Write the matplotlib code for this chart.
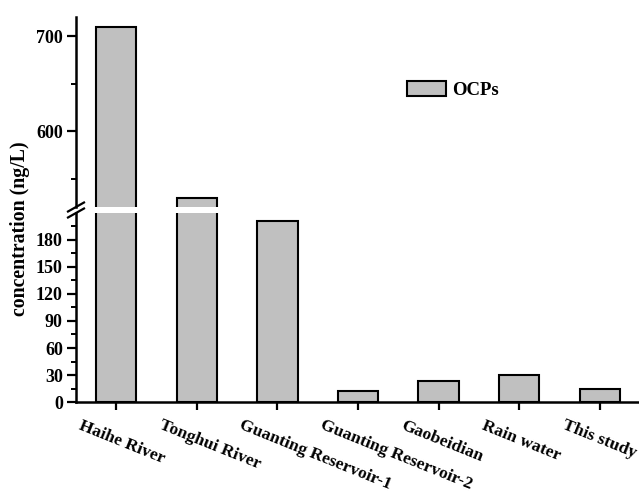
import matplotlib
matplotlib.use("Agg")
import matplotlib.pyplot as plt
from matplotlib.ticker import MultipleLocator
from matplotlib.transforms import ScaledTranslation
from matplotlib.lines import Line2D
from matplotlib.patches import Patch

categories = ["Haihe River", "Tonghui River", "Guanting Reservoir-1",
              "Guanting Reservoir-2", "Gaobeidian", "Rain water", "This study"]
ocps = [710, 529, 201, 12, 24, 30, 15]
series_name = "OCPs"
ylabel = "concentration (ng/L)"

plt.rcParams['font.family'] = ['Liberation Serif', 'DejaVu Serif']
plt.rcParams['font.weight'] = 'bold'

W, H = 639, 492
fig = plt.figure(figsize=(W / 100, H / 100), dpi=100)

left = 76 / W
width = 564 / W
ax_lo = fig.add_axes([left, (H - 402.3) / H, width, 189 / H])
ax_hi = fig.add_axes([left, (H - 207) / H, width, 190 / H])

x = list(range(len(categories)))
bar_color = '#c0c0c0'
for ax in (ax_lo, ax_hi):
    ax.bar(x, ocps, width=0.5, color=bar_color, edgecolor='black', linewidth=1.5)
    ax.set_xlim(-0.5, 6.5)
    ax.spines['top'].set_visible(False)
    ax.spines['right'].set_visible(False)
    ax.spines['left'].set_linewidth(1.8)
    ax.spines['bottom'].set_linewidth(1.8)
    ax.patch.set_alpha(0)
    ax.tick_params(axis='y', which='major', direction='out', length=6.5, width=1.6,
                   labelsize=13, pad=3)
    ax.tick_params(axis='y', which='minor', direction='out', length=3.6, width=1.4)

ax_lo.set_ylim(0, 209)
ax_lo.yaxis.set_major_locator(MultipleLocator(30))
ax_lo.yaxis.set_minor_locator(MultipleLocator(15))
ax_lo.set_xticks(x)
ax_lo.set_xticklabels(categories, rotation=-22, ha='left', va='top',
                      fontsize=12.6, fontweight='bold')
ax_lo.tick_params(axis='x', which='major', direction='out', length=6, width=1.6, pad=5)
shift = ScaledTranslation(-40 / 100, 0, fig.dpi_scale_trans)
for lbl in ax_lo.get_xticklabels():
    lbl.set_transform(lbl.get_transform() + shift)

ax_hi.set_ylim(520, 720)
ax_hi.yaxis.set_major_locator(MultipleLocator(100))
ax_hi.yaxis.set_minor_locator(MultipleLocator(50))
ax_hi.spines['bottom'].set_visible(False)
ax_hi.set_xticks([])

# break marks on the y axis
def px(xp, yp):
    return xp / W, (H - yp) / H

for yc in (207, 213):
    x0, y0 = px(68, yc + 4.5)
    x1, y1 = px(84, yc - 4.5)
    fig.add_artist(Line2D([x0, x1], [y0, y1], color='black', linewidth=1.6,
                          transform=fig.transFigure))

fig.text(20 / W, (H - 229) / H, ylabel, rotation=90, ha='center', va='center',
         fontsize=14.3, fontweight='bold')

handle = Patch(facecolor=bar_color, edgecolor='black', linewidth=1.5)
fig.legend([handle], [series_name], loc='center left',
           bbox_to_anchor=(406.7 / W, (H - 90) / H), frameon=False,
           borderpad=0, borderaxespad=0, handlelength=2.1, handleheight=0.83,
           handletextpad=0.3, prop={'size': 13.5, 'weight': 'bold'})

fig.savefig('out.png', dpi=100)
